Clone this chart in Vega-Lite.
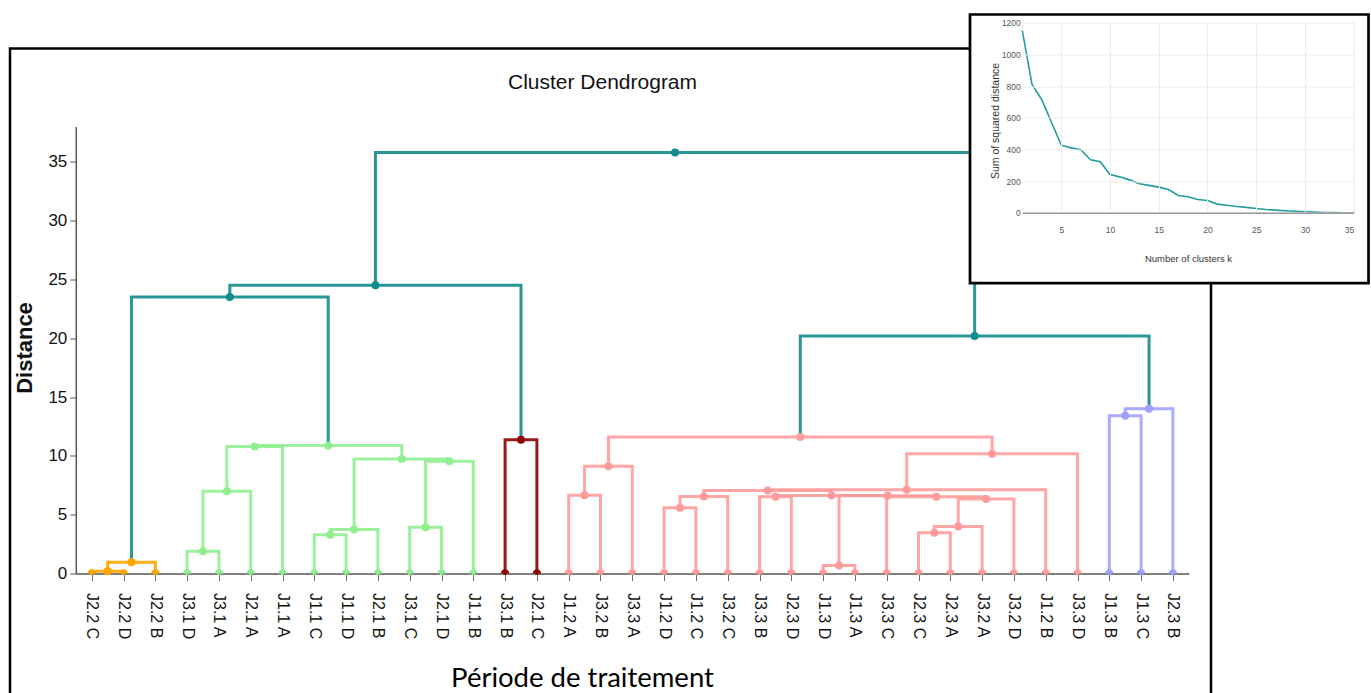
{
"$schema": "https://vega.github.io/schema/vega-lite/v6.json",
"background": "white",
"padding": {"left": 10, "top": 12.5, "right": 0, "bottom": 0},
"autosize": {"type": "pad"},
"width": 1201, "height": 660,
"view": {"stroke": "black", "strokeWidth": 2.5, "fill": "white"},
"config": {"font": "Liberation Sans"},
"title": {"text": "Cluster Dendrogram", "font": "Liberation Sans", "fontSize": 21, "fontWeight": "normal", "color": "#111", "anchor": "middle", "frame": "group", "baseline": "alphabetic", "offset": -97, "dx": -8},
"datasets": {
"br": [
{"n":"A1","c":"or","o":1,"x":1,"y":0},{"n":"A1","c":"or","o":2,"x":1,"y":0.2},{"n":"A1","c":"or","o":3,"x":2,"y":0.2},{"n":"A1","c":"or","o":4,"x":2,"y":0},
{"n":"A2","c":"or","o":1,"x":1.5,"y":0.2},{"n":"A2","c":"or","o":2,"x":1.5,"y":0.95},{"n":"A2","c":"or","o":3,"x":3,"y":0.95},{"n":"A2","c":"or","o":4,"x":3,"y":0},
{"n":"G1","c":"gr","o":1,"x":4,"y":0},{"n":"G1","c":"gr","o":2,"x":4,"y":1.9},{"n":"G1","c":"gr","o":3,"x":5,"y":1.9},{"n":"G1","c":"gr","o":4,"x":5,"y":0},
{"n":"G2","c":"gr","o":1,"x":4.5,"y":1.9},{"n":"G2","c":"gr","o":2,"x":4.5,"y":7},{"n":"G2","c":"gr","o":3,"x":6,"y":7},{"n":"G2","c":"gr","o":4,"x":6,"y":0},
{"n":"G3","c":"gr","o":1,"x":5.25,"y":7},{"n":"G3","c":"gr","o":2,"x":5.25,"y":10.8},{"n":"G3","c":"gr","o":3,"x":7,"y":10.8},{"n":"G3","c":"gr","o":4,"x":7,"y":0},
{"n":"G4","c":"gr","o":1,"x":8,"y":0},{"n":"G4","c":"gr","o":2,"x":8,"y":3.3},{"n":"G4","c":"gr","o":3,"x":9,"y":3.3},{"n":"G4","c":"gr","o":4,"x":9,"y":0},
{"n":"G5","c":"gr","o":1,"x":8.5,"y":3.3},{"n":"G5","c":"gr","o":2,"x":8.5,"y":3.74},{"n":"G5","c":"gr","o":3,"x":10,"y":3.74},{"n":"G5","c":"gr","o":4,"x":10,"y":0},
{"n":"G6","c":"gr","o":1,"x":11,"y":0},{"n":"G6","c":"gr","o":2,"x":11,"y":3.94},{"n":"G6","c":"gr","o":3,"x":12,"y":3.94},{"n":"G6","c":"gr","o":4,"x":12,"y":0},
{"n":"G7","c":"gr","o":1,"x":11.5,"y":3.94},{"n":"G7","c":"gr","o":2,"x":11.5,"y":9.54},{"n":"G7","c":"gr","o":3,"x":13,"y":9.54},{"n":"G7","c":"gr","o":4,"x":13,"y":0},
{"n":"G8","c":"gr","o":1,"x":9.25,"y":3.74},{"n":"G8","c":"gr","o":2,"x":9.25,"y":9.74},{"n":"G8","c":"gr","o":3,"x":12.25,"y":9.74},{"n":"G8","c":"gr","o":4,"x":12.25,"y":9.54},
{"n":"G9","c":"gr","o":1,"x":6.125,"y":10.8},{"n":"G9","c":"gr","o":2,"x":6.125,"y":10.88},{"n":"G9","c":"gr","o":3,"x":10.75,"y":10.88},{"n":"G9","c":"gr","o":4,"x":10.75,"y":9.74},
{"n":"D1","c":"dr","o":1,"x":14,"y":0},{"n":"D1","c":"dr","o":2,"x":14,"y":11.36},{"n":"D1","c":"dr","o":3,"x":15,"y":11.36},{"n":"D1","c":"dr","o":4,"x":15,"y":0},
{"n":"R1","c":"rd","o":1,"x":16,"y":0},{"n":"R1","c":"rd","o":2,"x":16,"y":6.65},{"n":"R1","c":"rd","o":3,"x":17,"y":6.65},{"n":"R1","c":"rd","o":4,"x":17,"y":0},
{"n":"R2","c":"rd","o":1,"x":16.5,"y":6.65},{"n":"R2","c":"rd","o":2,"x":16.5,"y":9.12},{"n":"R2","c":"rd","o":3,"x":18,"y":9.12},{"n":"R2","c":"rd","o":4,"x":18,"y":0},
{"n":"R3","c":"rd","o":1,"x":19,"y":0},{"n":"R3","c":"rd","o":2,"x":19,"y":5.58},{"n":"R3","c":"rd","o":3,"x":20,"y":5.58},{"n":"R3","c":"rd","o":4,"x":20,"y":0},
{"n":"R4","c":"rd","o":1,"x":19.5,"y":5.58},{"n":"R4","c":"rd","o":2,"x":19.5,"y":6.55},{"n":"R4","c":"rd","o":3,"x":21,"y":6.55},{"n":"R4","c":"rd","o":4,"x":21,"y":0},
{"n":"R5","c":"rd","o":1,"x":22,"y":0},{"n":"R5","c":"rd","o":2,"x":22,"y":6.52},{"n":"R5","c":"rd","o":3,"x":23,"y":6.52},{"n":"R5","c":"rd","o":4,"x":23,"y":0},
{"n":"R6","c":"rd","o":1,"x":24,"y":0},{"n":"R6","c":"rd","o":2,"x":24,"y":0.68},{"n":"R6","c":"rd","o":3,"x":25,"y":0.68},{"n":"R6","c":"rd","o":4,"x":25,"y":0},
{"n":"R7","c":"rd","o":1,"x":27,"y":0},{"n":"R7","c":"rd","o":2,"x":27,"y":3.46},{"n":"R7","c":"rd","o":3,"x":28,"y":3.46},{"n":"R7","c":"rd","o":4,"x":28,"y":0},
{"n":"R8","c":"rd","o":1,"x":27.5,"y":3.46},{"n":"R8","c":"rd","o":2,"x":27.5,"y":3.99},{"n":"R8","c":"rd","o":3,"x":29,"y":3.99},{"n":"R8","c":"rd","o":4,"x":29,"y":0},
{"n":"R9","c":"rd","o":1,"x":28.25,"y":3.99},{"n":"R9","c":"rd","o":2,"x":28.25,"y":6.33},{"n":"R9","c":"rd","o":3,"x":30,"y":6.33},{"n":"R9","c":"rd","o":4,"x":30,"y":0},
{"n":"R10","c":"rd","o":1,"x":26,"y":0},{"n":"R10","c":"rd","o":2,"x":26,"y":6.52},{"n":"R10","c":"rd","o":3,"x":29.125,"y":6.52},{"n":"R10","c":"rd","o":4,"x":29.125,"y":6.33},
{"n":"R11","c":"rd","o":1,"x":24.5,"y":0.68},{"n":"R11","c":"rd","o":2,"x":24.5,"y":6.6},{"n":"R11","c":"rd","o":3,"x":27.5625,"y":6.6},{"n":"R11","c":"rd","o":4,"x":27.5625,"y":6.52},
{"n":"R12","c":"rd","o":1,"x":22.5,"y":6.52},{"n":"R12","c":"rd","o":2,"x":22.5,"y":6.64},{"n":"R12","c":"rd","o":3,"x":26.03125,"y":6.64},{"n":"R12","c":"rd","o":4,"x":26.03125,"y":6.6},
{"n":"R13","c":"rd","o":1,"x":20.25,"y":6.55},{"n":"R13","c":"rd","o":2,"x":20.25,"y":7.05},{"n":"R13","c":"rd","o":3,"x":24.265625,"y":7.05},{"n":"R13","c":"rd","o":4,"x":24.265625,"y":6.64},
{"n":"R14","c":"rd","o":1,"x":22.2578125,"y":7.05},{"n":"R14","c":"rd","o":2,"x":22.2578125,"y":7.12},{"n":"R14","c":"rd","o":3,"x":31,"y":7.12},{"n":"R14","c":"rd","o":4,"x":31,"y":0},
{"n":"R15","c":"rd","o":1,"x":26.62890625,"y":7.12},{"n":"R15","c":"rd","o":2,"x":26.62890625,"y":10.17},{"n":"R15","c":"rd","o":3,"x":32,"y":10.17},{"n":"R15","c":"rd","o":4,"x":32,"y":0},
{"n":"R16","c":"rd","o":1,"x":17.25,"y":9.12},{"n":"R16","c":"rd","o":2,"x":17.25,"y":11.6},{"n":"R16","c":"rd","o":3,"x":29.314453125,"y":11.6},{"n":"R16","c":"rd","o":4,"x":29.314453125,"y":10.17},
{"n":"B1","c":"bl","o":1,"x":33,"y":0},{"n":"B1","c":"bl","o":2,"x":33,"y":13.42},{"n":"B1","c":"bl","o":3,"x":34,"y":13.42},{"n":"B1","c":"bl","o":4,"x":34,"y":0},
{"n":"B2","c":"bl","o":1,"x":33.5,"y":13.42},{"n":"B2","c":"bl","o":2,"x":33.5,"y":14},{"n":"B2","c":"bl","o":3,"x":35,"y":14},{"n":"B2","c":"bl","o":4,"x":35,"y":0},
{"n":"T1","c":"te","o":1,"x":2.25,"y":0.95},{"n":"T1","c":"te","o":2,"x":2.25,"y":23.5},{"n":"T1","c":"te","o":3,"x":8.4375,"y":23.5},{"n":"T1","c":"te","o":4,"x":8.4375,"y":10.88},
{"n":"T2","c":"te","o":1,"x":5.34375,"y":23.5},{"n":"T2","c":"te","o":2,"x":5.34375,"y":24.5},{"n":"T2","c":"te","o":3,"x":14.5,"y":24.5},{"n":"T2","c":"te","o":4,"x":14.5,"y":11.36},
{"n":"T3","c":"te","o":1,"x":23.2822265625,"y":11.6},{"n":"T3","c":"te","o":2,"x":23.2822265625,"y":20.2},{"n":"T3","c":"te","o":3,"x":34.25,"y":20.2},{"n":"T3","c":"te","o":4,"x":34.25,"y":14},
{"n":"T4","c":"te","o":1,"x":9.921875,"y":24.5},{"n":"T4","c":"te","o":2,"x":9.921875,"y":35.8},{"n":"T4","c":"te","o":3,"x":28.76611328125,"y":35.8},{"n":"T4","c":"te","o":4,"x":28.76611328125,"y":20.2}
],
"nodes": [
{"x":1.5,"y":0.2,"c":"or"},{"x":2.25,"y":0.95,"c":"or"},
{"x":4.5,"y":1.9,"c":"gr"},{"x":5.25,"y":7,"c":"gr"},{"x":6.125,"y":10.8,"c":"gr"},{"x":8.5,"y":3.3,"c":"gr"},{"x":9.25,"y":3.74,"c":"gr"},{"x":11.5,"y":3.94,"c":"gr"},{"x":12.25,"y":9.54,"c":"gr"},{"x":10.75,"y":9.74,"c":"gr"},{"x":8.4375,"y":10.88,"c":"gr"},
{"x":14.5,"y":11.36,"c":"dr"},
{"x":16.5,"y":6.65,"c":"rd"},{"x":17.25,"y":9.12,"c":"rd"},{"x":19.5,"y":5.58,"c":"rd"},{"x":20.25,"y":6.55,"c":"rd"},{"x":22.5,"y":6.52,"c":"rd"},{"x":24.5,"y":0.68,"c":"rd"},{"x":27.5,"y":3.46,"c":"rd"},{"x":28.25,"y":3.99,"c":"rd"},{"x":29.125,"y":6.33,"c":"rd"},{"x":27.5625,"y":6.52,"c":"rd"},{"x":26.03125,"y":6.6,"c":"rd"},{"x":24.265625,"y":6.64,"c":"rd"},{"x":22.2578125,"y":7.05,"c":"rd"},{"x":26.62890625,"y":7.12,"c":"rd"},{"x":29.314453125,"y":10.17,"c":"rd"},{"x":23.2822265625,"y":11.6,"c":"rd"},
{"x":33.5,"y":13.42,"c":"bl"},{"x":34.25,"y":14,"c":"bl"},
{"x":5.34375,"y":23.5,"c":"te"},{"x":9.921875,"y":24.5,"c":"te"},{"x":28.76611328125,"y":20.2,"c":"te"},{"x":19.343994140625,"y":35.8,"c":"te"}
],
"leaves": [
{"x":1,"c":"or"},{"x":2,"c":"or"},{"x":3,"c":"or"},
{"x":4,"c":"gr"},{"x":5,"c":"gr"},{"x":6,"c":"gr"},{"x":7,"c":"gr"},{"x":8,"c":"gr"},{"x":9,"c":"gr"},{"x":10,"c":"gr"},{"x":11,"c":"gr"},{"x":12,"c":"gr"},{"x":13,"c":"gr"},
{"x":14,"c":"dr"},{"x":15,"c":"dr"},
{"x":16,"c":"rd"},{"x":17,"c":"rd"},{"x":18,"c":"rd"},{"x":19,"c":"rd"},{"x":20,"c":"rd"},{"x":21,"c":"rd"},{"x":22,"c":"rd"},{"x":23,"c":"rd"},{"x":24,"c":"rd"},{"x":25,"c":"rd"},{"x":26,"c":"rd"},{"x":27,"c":"rd"},{"x":28,"c":"rd"},{"x":29,"c":"rd"},{"x":30,"c":"rd"},{"x":31,"c":"rd"},{"x":32,"c":"rd"},
{"x":33,"c":"bl"},{"x":34,"c":"bl"},{"x":35,"c":"bl"}
],
"elbow": [
{"k":1,"v":1150},{"k":2,"v":810},{"k":3,"v":714},{"k":4,"v":570},{"k":5,"v":427},{"k":6,"v":410},{"k":7,"v":398},{"k":8,"v":335},{"k":9,"v":322},{"k":10,"v":242},{"k":11,"v":227},{"k":12,"v":208},{"k":13,"v":183},{"k":14,"v":173},{"k":15,"v":162},{"k":16,"v":147},{"k":17,"v":109},{"k":18,"v":101},{"k":19,"v":84},{"k":20,"v":78},{"k":21,"v":55},{"k":22,"v":48},{"k":23,"v":40},{"k":24,"v":34},{"k":25,"v":27},{"k":26,"v":21},{"k":27,"v":17},{"k":28,"v":13},{"k":29,"v":10},{"k":30,"v":7},{"k":31,"v":4},{"k":32,"v":2},{"k":33,"v":1},{"k":34,"v":0.5},{"k":35,"v":0}
]
},
"resolve": {"scale": {"x": "independent", "y": "independent"}, "axis": {"x": "independent", "y": "independent"}},
"layer": [
{
"data": {"name": "br"},
"mark": {"type": "line", "strokeJoin": "miter", "strokeCap": "square", "strokeOpacity": 0.9},
"encoding": {
"x": {"field": "x", "type": "quantitative", "scale": {"domain": [0.5, 35.5], "range": [65.8, 1178.8], "nice": false, "zero": false},
"axis": {"orient": "bottom", "offset": -135, "values": [1,2,3,4,5,6,7,8,9,10,11,12,13,14,15,16,17,18,19,20,21,22,23,24,25,26,27,28,29,30,31,32,33,34,35],
"labelExpr": "['J2.2 C','J2.2 D','J2.2 B','J3.1 D','J3.1 A','J2.1 A','J1.1 A','J1.1 C','J1.1 D','J2.1 B','J3.1 C','J2.1 D','J1.1 B','J3.1 B','J2.1 C','J1.2 A','J3.2 B','J3.3 A','J1.2 D','J1.2 C','J3.2 C','J3.3 B','J2.3 D','J1.3 D','J1.3 A','J3.3 C','J2.3 C','J2.3 A','J3.2 A','J3.2 D','J1.2 B','J3.3 D','J1.3 B','J1.3 C','J2.3 B'][datum.value - 1]",
"labelAngle": 90, "labelFont": "Liberation Sans", "labelFontSize": 16, "labelColor": "#111", "labelPadding": 12, "labelOverlap": false, "labelFlush": false,
"tickSize": 7, "tickColor": "#666", "domainColor": "#555", "domainWidth": 1.5, "grid": false,
"title": "Période de traitement", "titleFont": "Lato", "titleFontSize": 27.5, "titleFontWeight": "normal", "titleColor": "#000",
"titleX": 572, "titleY": 113, "titleAlign": "center", "titleBaseline": "alphabetic"}},
"y": {"field": "y", "type": "quantitative", "scale": {"domain": [0, 38], "range": [525, 78], "nice": false, "zero": false},
"axis": {"orient": "left", "offset": -65.8, "values": [0,5,10,15,20,25,30,35], "labelFont": "Liberation Sans", "labelFontSize": 17, "labelColor": "#111", "labelPadding": 3,
"tickSize": 6, "tickColor": "#555", "domainColor": "#555", "domainWidth": 1.5, "grid": false,
"title": "Distance", "titleFont": "Liberation Sans", "titleFontSize": 22, "titleFontWeight": "bold", "titleColor": "#111",
"titleAngle": -90, "titleX": -44, "titleY": 299, "titleAlign": "center", "titleBaseline": "alphabetic"}},
"detail": {"field": "n"},
"order": {"field": "o", "type": "quantitative"},
"color": {"field": "c", "type": "nominal", "scale": {"domain": ["or","gr","dr","rd","bl","te"], "range": ["#FFA500","#90EE90","#8B0000","#FF9B9B","#A0A0FF","#138B8B"]}, "legend": null},
"strokeWidth": {"field": "c", "type": "ordinal", "scale": {"domain": ["or","gr","dr","rd","bl","te"], "range": [3,3,3,3,3,2.5]}, "legend": null}
}
},
{
"data": {"name": "nodes"},
"mark": {"type": "point", "filled": true, "opacity": 1},
"encoding": {
"x": {"field": "x", "type": "quantitative", "scale": {"domain": [0.5, 35.5], "range": [65.8, 1178.8], "nice": false, "zero": false}, "axis": null},
"y": {"field": "y", "type": "quantitative", "scale": {"domain": [0, 38], "range": [525, 78], "nice": false, "zero": false}, "axis": null},
"color": {"field": "c", "type": "nominal", "legend": null},
"size": {"field": "c", "type": "ordinal", "scale": {"domain": ["or","gr","dr","rd","bl","te"], "range": [64,64,64,64,64,40]}, "legend": null}
}
},
{
"data": {"name": "leaves"},
"mark": {"type": "point", "filled": true, "opacity": 1, "shape": "M-1,0A1,1 0 0 1 1,0Z", "size": 70},
"encoding": {
"x": {"field": "x", "type": "quantitative", "scale": {"domain": [0.5, 35.5], "range": [65.8, 1178.8], "nice": false, "zero": false}, "axis": null},
"y": {"datum": 0, "type": "quantitative", "scale": {"domain": [0, 38], "range": [525, 78], "nice": false, "zero": false}, "axis": null},
"color": {"field": "c", "type": "nominal", "legend": null}
}
},
{
"data": {"values": [{"frame": 1}]},
"mark": {"type": "rect", "fill": "white", "stroke": "black", "strokeWidth": 2.7},
"encoding": {
"x": {"datum": -4.366, "type": "quantitative", "scale": {"domain": [1, 35], "range": [1012.3, 1343.7], "nice": false, "zero": false},
"axis": {"orient": "top", "offset": 0, "zindex": 1, "values": [5,10,15,20,25,30,35], "grid": true, "gridColor": "#ececec", "gridWidth": 1, "labels": false, "ticks": false, "domain": false, "title": null}},
"x2": {"datum": 36.52},
"y": {"datum": 1252.4, "type": "quantitative", "scale": {"domain": [0, 1200], "range": [164.3, -25.7], "nice": false, "zero": false}, "axis": null},
"y2": {"datum": -444.6}
}
},
{
"data": {"name": "elbow"},
"mark": {"type": "line", "color": "#239C9C", "strokeWidth": 1.6},
"encoding": {
"x": {"field": "k", "type": "quantitative", "scale": {"domain": [1, 35], "range": [1012.3, 1343.7], "nice": false, "zero": false},
"axis": {"orient": "bottom", "offset": -495.7, "zindex": 1, "values": [5,10,15,20,25,30,35], "grid": false,
"ticks": false, "tickSize": 0, "domain": true, "domainColor": "#9a9a9a", "domainWidth": 1.5,
"labelFont": "Liberation Sans", "labelFontSize": 8.5, "labelColor": "#555", "labelPadding": 13,
"title": "Number of clusters k", "titleFont": "Liberation Sans", "titleFontSize": 9.5, "titleFontWeight": "normal", "titleColor": "#333",
"titleX": 1178, "titleY": 46, "titleAlign": "center", "titleBaseline": "middle"}},
"y": {"field": "v", "type": "quantitative", "scale": {"domain": [0, 1200], "range": [164.3, -25.7], "nice": false, "zero": false},
"axis": {"orient": "left", "offset": -1012.3, "zindex": 1, "values": [0,200,400,600,800,1000,1200], "format": "d", "grid": true, "gridColor": "#ececec", "gridWidth": 1,
"ticks": false, "tickSize": 0, "domain": false,
"labelFont": "Liberation Sans", "labelFontSize": 8.5, "labelColor": "#555", "labelPadding": 2,
"title": "Sum of squared distance", "titleFont": "Liberation Sans", "titleFontSize": 10.5, "titleFontWeight": "normal", "titleColor": "#333",
"titleAngle": -90, "titleX": -27, "titleY": 72, "titleAlign": "center", "titleBaseline": "middle"}}
}
}
]
}
